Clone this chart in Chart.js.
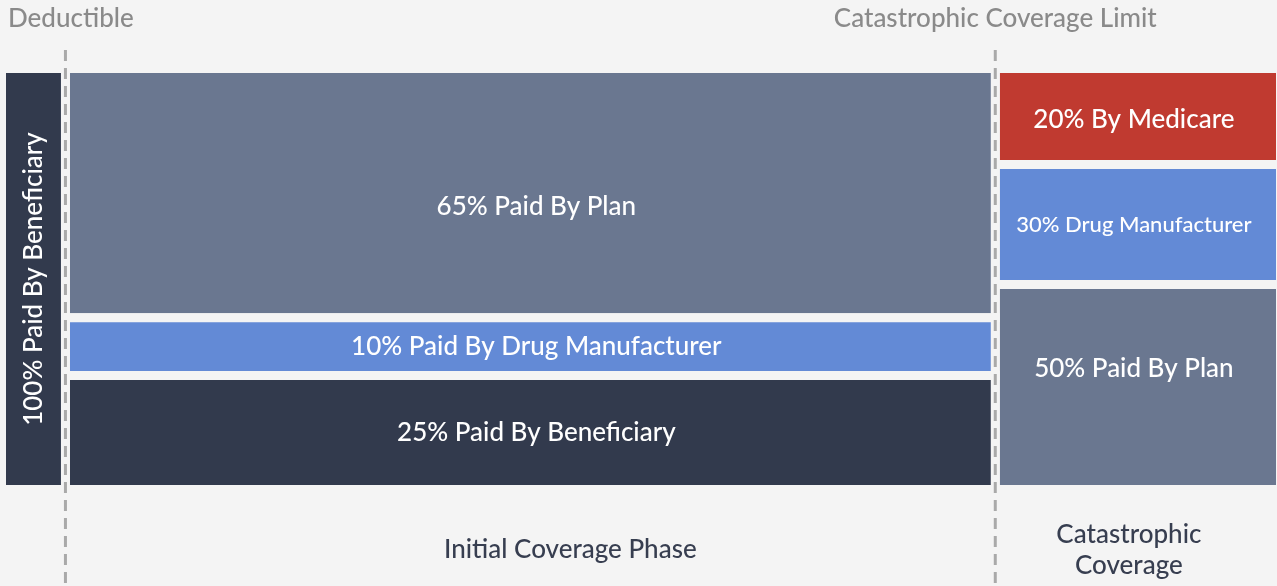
<!DOCTYPE html>
<html>
<head>
<meta charset="utf-8">
<script src="https://cdn.jsdelivr.net/npm/chart.js@4.4.0/dist/chart.umd.min.js"></script>
<style>
  html, body { margin: 0; padding: 0; background: #f4f4f4; overflow: hidden; }
  #wrap { width: 1290px; height: 586px; position: relative; }
</style>
</head>
<body>
<div id="wrap"><canvas id="chart"></canvas></div>
<script>
// phases (columns) and their share of the width
const phases = ['Deductible', 'Initial Coverage Phase', 'Catastrophic Coverage']
const phaseWidths = [5, 72.7, 22.3]

// limits drawn as dashed lines between phases
const limitLabels = ['Deductible', 'Catastrophic Coverage Limit']

// stacked blocks of each phase, bottom to top (drawn share of height)
const deductibleShares = [100]
const initialShares = [27.1, 13.7, 59.2]
const catastrophicShares = [48.7, 28.5, 22.8]

const deductibleLabels = ['100% Paid By Beneficiary']
const initialLabels = ['25% Paid By Beneficiary', '10% Paid By Drug Manufacturer', '65% Paid By Plan']
const catastrophicLabels = ['50% Paid By Plan', '30% Drug Manufacturer', '20% By Medicare']

const deductibleColors = ['#323a4d']
const initialColors = ['#323a4d', '#638ad6', '#6a7790']
const catastrophicColors = ['#6a7790', '#638ad6', '#c03a30']

const BG = '#f4f4f4'
const FONT = 'Lato, "Open Sans", sans-serif'

// small label nudges (pixels) to follow the original layout
const nudge = {
  '65% Paid By Plan': [6, 13],
  '10% Paid By Drug Manufacturer': [6, 0],
  '25% Paid By Beneficiary': [6, 0],
  '20% By Medicare': [-4, 3],
  '30% Drug Manufacturer': [-4, 0],
  '50% Paid By Plan': [-4, -18],
  'Initial Coverage Phase': [40, 0],
  'Catastrophic Coverage': [-9, 0]
}
// this one is set smaller in the original
const smallLabels = ['30% Drug Manufacturer']

const columns = [
  { shares: deductibleShares, labels: deductibleLabels, colors: deductibleColors, rotate: true },
  { shares: initialShares, labels: initialLabels, colors: initialColors },
  { shares: catastrophicShares, labels: catastrophicLabels, colors: catastrophicColors }
]

// one closed rectangle dataset per block
const datasets = []
const boundaries = []
let x0 = 0
columns.forEach((col, i) => {
  const x1 = x0 + phaseWidths[i]
  let y0 = 0
  col.shares.forEach((s, j) => {
    const y1 = y0 + s
    datasets.push({
      data: [{x: x0, y: y0}, {x: x1, y: y0}, {x: x1, y: y1}, {x: x0, y: y1}, {x: x0, y: y0}],
      showLine: true,
      fill: 'shape',
      backgroundColor: col.colors[j],
      borderColor: BG,
      borderWidth: 9,
      borderJoinStyle: 'miter',
      borderCapStyle: 'square',
      pointRadius: 0,
      order: 1,
      boxLabel: col.labels[j],
      rotate: !!col.rotate,
      cx: (x0 + x1) / 2,
      cy: (y0 + y1) / 2
    })
    y0 = y1
  })
  x0 = x1
  if (i < columns.length - 1) boundaries.push(x1)
})

// dashed limit lines
boundaries.forEach(b => {
  datasets.push({
    data: [{x: b, y: 104.4}, {x: b, y: -23}],
    showLine: true,
    fill: false,
    borderColor: '#a9a9a9',
    borderWidth: 3,
    borderDash: [11, 7],
    pointRadius: 0,
    clip: false,
    order: 0
  })
})

const labelPlugin = {
  id: 'boxLabels',
  afterDatasetsDraw(chart) {
    const ctx = chart.ctx
    const x = chart.scales.x
    const y = chart.scales.y
    ctx.save()
    ctx.textBaseline = 'middle'
    ctx.textAlign = 'center'
    ctx.fillStyle = '#ffffff'
    chart.data.datasets.forEach(ds => {
      if (!ds.boxLabel) return
      const n = nudge[ds.boxLabel] || [0, 0]
      const px = x.getPixelForValue(ds.cx) + n[0]
      const py = y.getPixelForValue(ds.cy) + n[1]
      ctx.font = (smallLabels.includes(ds.boxLabel) ? '500 22px ' : '500 26px ') + FONT
      if (ds.rotate) {
        ctx.save()
        ctx.translate(px, py)
        ctx.rotate(-Math.PI / 2)
        ctx.fillText(ds.boxLabel, 0, 0)
        ctx.restore()
      } else {
        ctx.fillText(ds.boxLabel, px, py)
      }
    })

    // limit labels on top
    ctx.font = '500 26px ' + FONT
    ctx.fillStyle = '#8a8a8a'
    boundaries.forEach((b, i) => {
      const px = x.getPixelForValue(b)
      const w = ctx.measureText(limitLabels[i]).width
      ctx.fillText(limitLabels[i], Math.max(px, 8 + w / 2), 19)
    })

    // phase names at the bottom (not for the deductible)
    ctx.fillStyle = '#373e50'
    let start = 0
    phaseWidths.forEach((w, i) => {
      const n = nudge[phases[i]] || [0, 0]
      const mid = x.getPixelForValue(start + w / 2) + n[0]
      start += w
      if (i === 0) return
      const words = phases[i].split(' ')
      if (i === 1) {
        ctx.fillText(phases[i], mid, 550)
      } else {
        ctx.fillText(words[0], mid, 535)
        ctx.fillText(words.slice(1).join(' '), mid, 566)
      }
    })
    ctx.restore()
  }
}

new Chart(document.getElementById('chart'), {
  type: 'scatter',
  data: { datasets: datasets },
  options: {
    responsive: true,
    maintainAspectRatio: false,
    animation: false,
    layout: { padding: { left: 0, right: 0, top: 58.5, bottom: 86.5 } },
    scales: {
      x: { type: 'linear', min: -0.117, max: 100.743, display: false },
      y: { type: 'linear', min: -2.375, max: 102.375, display: false }
    },
    plugins: {
      legend: { display: false },
      tooltip: { enabled: false }
    }
  },
  plugins: [labelPlugin]
})
</script>
</body>
</html>
